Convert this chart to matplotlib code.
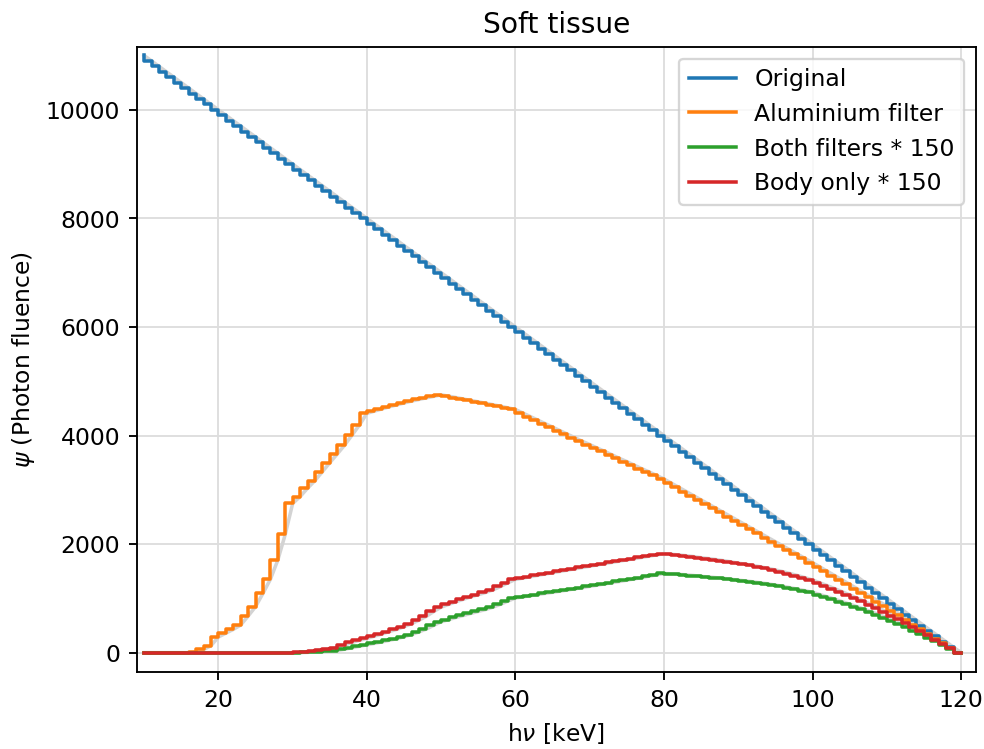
import numpy as np
import matplotlib
matplotlib.use("Agg")
import matplotlib.pyplot as plt

energy = np.arange(10, 121)

original = [
    11000, 10900, 10800, 10700, 10600, 10500, 10400, 10300, 10200, 10100,
    10000, 9900, 9800, 9700, 9600, 9500, 9400, 9300, 9200, 9100,
    9000, 8900, 8800, 8700, 8600, 8500, 8400, 8300, 8200, 8100,
    8000, 7900, 7800, 7700, 7600, 7500, 7400, 7300, 7200, 7100,
    7000, 6900, 6800, 6700, 6600, 6500, 6400, 6300, 6200, 6100,
    6000, 5900, 5800, 5700, 5600, 5500, 5400, 5300, 5200, 5100,
    5000, 4900, 4800, 4700, 4600, 4500, 4400, 4300, 4200, 4100,
    4000, 3900, 3800, 3700, 3600, 3500, 3400, 3300, 3200, 3100,
    3000, 2900, 2800, 2700, 2600, 2500, 2400, 2300, 2200, 2100,
    2000, 1900, 1800, 1700, 1600, 1500, 1400, 1300, 1200, 1100,
    1000, 900, 800, 700, 600, 500, 400, 300, 200, 100,
    0,
]

aluminium = [
    0, 0, 0, 0, 0, 0, 0, 20, 60, 130,
    290, 360, 430, 510, 676, 848, 1094, 1352, 1708, 2180,
    2750, 2875, 3030, 3170, 3335, 3500, 3660, 3825, 4010, 4195,
    4410, 4450, 4490, 4530, 4565, 4600, 4635, 4665, 4695, 4722,
    4750, 4725, 4700, 4673, 4647, 4620, 4595, 4567, 4540, 4510,
    4480, 4415, 4350, 4285, 4220, 4155, 4090, 4025, 3960, 3895,
    3835, 3770, 3710, 3645, 3580, 3520, 3455, 3390, 3330, 3265,
    3200, 3123, 3046, 2969, 2892, 2815, 2738, 2661, 2584, 2507,
    2430, 2353, 2276, 2199, 2122, 2045, 1968, 1891, 1814, 1737,
    1660, 1580, 1500, 1420, 1340, 1260, 1180, 1100, 1020, 940,
    860, 775, 690, 605, 520, 435, 350, 262, 175, 88,
    0,
]

both_filters = [
    0, 0, 0, 0, 0, 0, 0, 0, 0, 0,
    0, 0, 0, 0, 0, 0, 0, 0, 0, 0,
    0, 2, 7, 15, 21, 31, 41, 65, 93, 119,
    146, 172, 199, 229, 258, 294, 335, 383, 437, 505,
    570, 610, 650, 687, 725, 761, 797, 841, 893, 953,
    1008, 1029, 1050, 1072, 1093, 1113, 1134, 1155, 1178, 1199,
    1223, 1244, 1268, 1291, 1312, 1337, 1360, 1384, 1411, 1434,
    1460, 1453, 1444, 1434, 1422, 1407, 1396, 1383, 1370, 1354,
    1337, 1322, 1306, 1288, 1269, 1247, 1224, 1198, 1171, 1143,
    1112, 1072, 1029, 985, 940, 895, 847, 799, 749, 698,
    645, 588, 530, 469, 407, 344, 278, 212, 143, 72,
    0,
]

body_only = [
    0, 0, 0, 0, 0, 0, 0, 0, 0, 0,
    0, 0, 0, 0, 0, 0, 0, 0, 0, 0,
    0, 5, 20, 40, 55, 75, 95, 140, 190, 230,
    265, 305, 345, 390, 430, 480, 535, 600, 670, 760,
    840, 890, 940, 985, 1030, 1070, 1110, 1160, 1220, 1290,
    1350, 1375, 1400, 1425, 1450, 1474, 1498, 1522, 1546, 1570,
    1594, 1618, 1641, 1664, 1687, 1710, 1733, 1756, 1779, 1802,
    1825, 1814, 1801, 1787, 1771, 1750, 1734, 1716, 1696, 1674,
    1650, 1630, 1607, 1582, 1555, 1525, 1493, 1458, 1421, 1382,
    1340, 1288, 1235, 1180, 1123, 1065, 1005, 944, 881, 816,
    750, 682, 613, 542, 469, 395, 319, 242, 163, 82,
    0,
]

series = [
    ("Original", original, "#1f77b4"),
    ("Aluminium filter", aluminium, "#ff7f0e"),
    ("Both filters * 150", both_filters, "#2ca02c"),
    ("Body only * 150", body_only, "#d62728"),
]

DPI = 169
fig = plt.figure(figsize=(984.2 / DPI, 749.2 / DPI), dpi=DPI)
ax = fig.add_axes([136.7 / 984, 1 - 672.3 / 749, (975.7 - 136.7) / 984, (672.3 - 47) / 749])

for label, vals, color in series:
    ax.plot(energy, vals, color="lightgray", lw=1.5, zorder=2)
for label, vals, color in series:
    ax.step(energy, vals, where="pre", color=color, lw=1.5, label=label, zorder=3)

ax.set_xlim(9.0, 122.0)
ax.set_ylim(-360, 11160)
ax.set_xticks([20, 40, 60, 80, 100, 120])
ax.set_yticks([0, 2000, 4000, 6000, 8000, 10000])
ax.grid(True, color="#dddddd", lw=0.8, zorder=0)
ax.set_axisbelow(True)
ax.set_title("Soft tissue", fontsize=12)
ax.set_xlabel("h$\\nu$ [keV]")
ax.set_ylabel("$\\psi$ (Photon fluence)")
ax.legend(loc="upper right")

fig.savefig("out.png", dpi=DPI)
